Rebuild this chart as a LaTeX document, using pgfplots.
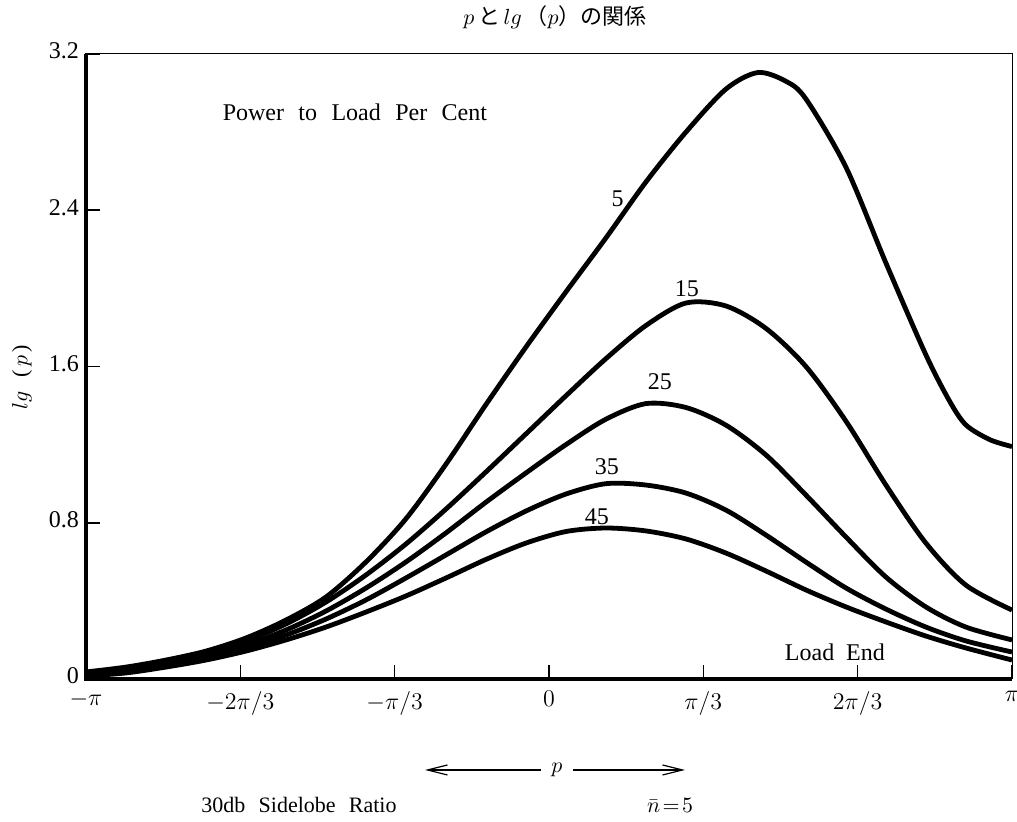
\documentclass[border=0pt]{standalone}
\usepackage{fontspec}
\setmainfont{Liberation Serif}
\newfontfamily\cjk{Noto Sans CJK JP}
\usepackage{pgfplots}
\pgfplotsset{compat=1.18}
\usetikzlibrary{arrows.meta}
\begin{document}
\begin{tikzpicture}[x=1pt,y=1pt]
\path[use as bounding box] (-43,-71.5) rectangle (465.5,339.5);
\begin{axis}[
  at={(0,0)}, anchor=south west,
  scale only axis, width=463pt, height=312.5pt,
  xmin=-3.14159, xmax=3.14159, ymin=0, ymax=3.2,
  xtick={-3.14159,-2.0944,-1.0472,0,1.0472,2.0944,3.14159},
  xticklabels={$-\pi$,$-2\pi/3$,$-\pi/3$,$0$,$\pi/3$,$2\pi/3$,$\pi$},
  ytick={0,0.8,1.6,2.4,3.2},
  yticklabels={0,0.8,1.6,2.4,3.2},
  tick pos=left, tick align=inside, major tick length=7pt,
  tick style={line width=0.8pt, black},
  axis line style={line width=0.5pt},
  xticklabel style={font=\fontsize{12}{13}\selectfont, yshift=-2.5pt},
  yticklabel style={font=\fontsize{12}{13}\selectfont, yshift=1.5pt},
  clip=false,
]
\draw[line width=1.6pt] (rel axis cs:0,1) -- (rel axis cs:0,0) -- (rel axis cs:1,0);
% 5
\addplot[line width=2.4pt, smooth, black] coordinates {
(-3.1416,0.036) (-2.870,0.061) (-2.599,0.097) (-2.327,0.143) (-2.056,0.210) (-1.784,0.302) (-1.513,0.420) (-1.241,0.600) (-0.971,0.820) (-0.699,1.100) (-0.428,1.405) (-0.156,1.700) (0.115,1.982) (0.386,2.258) (0.658,2.545) (0.929,2.800) (1.200,3.020) (1.417,3.105) (1.608,3.060) (1.743,2.970) (2.015,2.620) (2.286,2.130) (2.557,1.660) (2.720,1.420) (2.830,1.300) (2.992,1.225) (3.1416,1.190)};
% 15
\addplot[line width=2.4pt, smooth, black] coordinates {
(-3.1416,0.026) (-2.870,0.046) (-2.599,0.082) (-2.327,0.133) (-2.056,0.195) (-1.784,0.282) (-1.513,0.394) (-1.241,0.533) (-0.971,0.691) (-0.699,0.870) (-0.428,1.060) (-0.156,1.255) (0.115,1.450) (0.386,1.640) (0.658,1.810) (0.929,1.925) (1.200,1.910) (1.472,1.795) (1.743,1.600) (2.015,1.320) (2.286,0.993) (2.557,0.696) (2.828,0.481) (3.1416,0.353)};
% 25
\addplot[line width=2.4pt, smooth, black] coordinates {
(-3.1416,0.020) (-2.870,0.041) (-2.599,0.072) (-2.327,0.118) (-2.056,0.174) (-1.784,0.251) (-1.513,0.348) (-1.241,0.466) (-0.971,0.599) (-0.699,0.748) (-0.428,0.905) (-0.156,1.055) (0.115,1.200) (0.386,1.330) (0.658,1.410) (0.929,1.390) (1.200,1.300) (1.472,1.147) (1.743,0.942) (2.015,0.727) (2.286,0.522) (2.557,0.369) (2.828,0.266) (3.1416,0.200)};
% 35
\addplot[line width=2.4pt, smooth, black] coordinates {
(-3.1416,0.020) (-2.870,0.036) (-2.599,0.067) (-2.327,0.108) (-2.056,0.159) (-1.784,0.225) (-1.513,0.307) (-1.241,0.405) (-0.971,0.517) (-0.699,0.635) (-0.428,0.753) (-0.156,0.860) (0.115,0.947) (0.386,1.000) (0.658,0.993) (0.929,0.952) (1.200,0.865) (1.472,0.737) (1.743,0.599) (2.015,0.466) (2.286,0.358) (2.557,0.266) (2.828,0.195) (3.1416,0.138)};
% 45
\addplot[line width=2.4pt, smooth, black] coordinates {
(-3.1416,0.015) (-2.870,0.031) (-2.599,0.061) (-2.327,0.097) (-2.056,0.143) (-1.784,0.200) (-1.513,0.266) (-1.241,0.343) (-0.971,0.425) (-0.699,0.517) (-0.428,0.612) (-0.156,0.696) (0.115,0.755) (0.386,0.773) (0.658,0.758) (0.929,0.717) (1.200,0.645) (1.472,0.553) (1.743,0.456) (2.015,0.369) (2.286,0.292) (2.557,0.220) (2.828,0.159) (3.1416,0.097)};
\node[font=\fontsize{12}{13}\selectfont] at (axis cs:0.465,2.46) {5};
\node[font=\fontsize{12}{13}\selectfont] at (axis cs:0.936,2.00) {15};
\node[font=\fontsize{12}{13}\selectfont] at (axis cs:0.753,1.52) {25};
\node[font=\fontsize{12}{13}\selectfont] at (axis cs:0.393,1.085) {35};
\node[font=\fontsize{12}{13}\selectfont] at (axis cs:0.325,0.83) {45};
\node[font=\fontsize{12}{13}\selectfont] at (axis cs:1.94,0.138) {Load\hspace{0.5em}End};
\node[font=\fontsize{12}{13}\selectfont] at (axis cs:-1.317,2.90) {Power\hspace{0.6em}to\hspace{0.6em}Load\hspace{0.6em}Per\hspace{0.6em}Cent};
\end{axis}
\node[font=\fontsize{11}{12}\selectfont] at (234.5,331) {$p$\,\cjk{と}\,$lg$\,\cjk{（}$p$\cjk{）}\cjk{の関係}};
\node[rotate=90, font=\fontsize{11}{12}\selectfont] at (-32,151) {$lg$\hspace{0.6em}(\,$p$\,)};
\draw[line width=0.6pt, {Straight Barb[length=10pt,width=5pt]}-{Straight Barb[length=10pt,width=5pt]}] (169.5,-45.5) -- (299.5,-45.5);
\node[fill=white, inner sep=5pt, font=\fontsize{11}{12}\selectfont] at (235.5,-45.5) {$p$};
\node[font=\fontsize{11}{12}\selectfont] at (106.5,-63) {30db\hspace{0.6em}Sidelobe\hspace{0.6em}Ratio};
\node[font=\fontsize{11}{12}\selectfont] at (292,-63) {$\bar{n}\!=\!5$};
\end{tikzpicture}
\end{document}
